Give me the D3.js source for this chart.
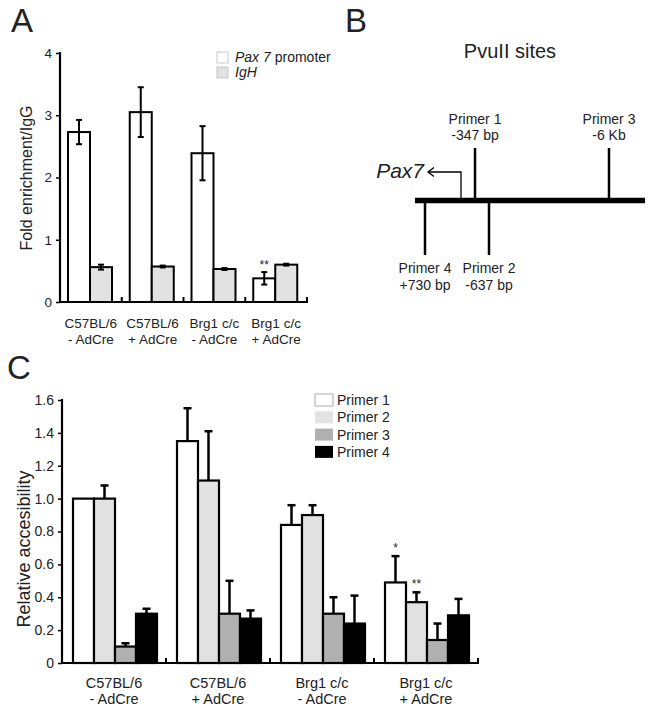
<!DOCTYPE html>
<html>
<head>
<meta charset="utf-8">
<script src="https://cdn.jsdelivr.net/npm/d3@7"></script>
<style>
  body { margin: 0; background: #fff; }
  svg { font-family: "Liberation Sans", Arial, sans-serif; }
  text { fill: #222; }
</style>
</head>
<body>
<svg id="fig" width="654" height="712"></svg>
<script>
"use strict";

// /////// DATA

// Panel A
const groupsA = ["C57BL/6|- AdCre", "C57BL/6|+ AdCre", "Brg1 c/c|- AdCre", "Brg1 c/c|+ AdCre"];
const seriesA = ["Pax 7 promoter", "IgH"];
const paxValues = [2.73, 3.05, 2.39, 0.38];
const paxErr = [0.195, 0.40, 0.435, 0.10];
const ighValues = [0.56, 0.57, 0.53, 0.60];
const ighErr = [0.04, 0.015, 0.015, 0.015];
const ticksA = [0, 1, 2, 3, 4];

// Panel B
const primerSites = [
  { name: "Primer 1", pos: "-347 bp", x: 475, side: "up" },
  { name: "Primer 3", pos: "-6 Kb", x: 609, side: "up" },
  { name: "Primer 4", pos: "+730 bp", x: 425, side: "down" },
  { name: "Primer 2", pos: "-637 bp", x: 489, side: "down" },
];

// Panel C
const groupsC = groupsA;
const seriesC = ["Primer 1", "Primer 2", "Primer 3", "Primer 4"];
const primer1 = [1.0, 1.35, 0.84, 0.49];
const primer2 = [1.0, 1.11, 0.90, 0.37];
const primer3 = [0.10, 0.30, 0.30, 0.14];
const primer4 = [0.30, 0.27, 0.24, 0.29];
const primer1Err = [0, 0.20, 0.12, 0.16];
const primer2Err = [0.08, 0.30, 0.06, 0.06];
const primer3Err = [0.02, 0.20, 0.10, 0.10];
const primer4Err = [0.03, 0.05, 0.17, 0.10];
const ticksC = [0, 0.2, 0.4, 0.6, 0.8, 1.0, 1.2, 1.4, 1.6];

const colorsA = ["#ffffff", "#e2e2e2"];
const colorsC = ["#ffffff", "#e2e2e2", "#b0b0b0", "#000000"];

const svg = d3.select("#fig");

// /////// HELPERS

function panelLetter(txt, x, y) {
  svg.append("text").attr("x", x).attr("y", y)
    .style("font-size", "33px").text(txt);
}

function drawAxes(g, x, y, ticks, fmt, tickFont) {
  const [x0, x1] = x.range();
  const y0 = y.range()[0];
  // y axis
  const ax = g.append("g")
    .attr("transform", `translate(${x0},0)`)
    .call(d3.axisLeft(y).tickValues(ticks).tickSize(4).tickPadding(4).tickFormat(fmt));
  ax.select(".domain").remove();
  ax.selectAll(".tick line").attr("stroke", "#000").attr("stroke-width", 1.5);
  ax.selectAll(".tick text").style("font-size", tickFont + "px").attr("fill", "#333")
    .style("font-family", "Liberation Sans, Arial, sans-serif");
  g.append("line").attr("x1", x0).attr("x2", x0)
    .attr("y1", y(ticks[ticks.length - 1]) - 1).attr("y2", y0 + 1)
    .attr("stroke", "#000").attr("stroke-width", 2.2);
  // x axis with small separators between groups
  g.append("line").attr("x1", x0 - 1).attr("x2", x1 + 1)
    .attr("y1", y0).attr("y2", y0)
    .attr("stroke", "#000").attr("stroke-width", 2.2);
  x.domain().forEach((d) => {
    const xe = x(d) + x.bandwidth();
    g.append("line").attr("x1", xe).attr("x2", xe)
      .attr("y1", y0).attr("y2", y0 - 5)
      .attr("stroke", "#000").attr("stroke-width", 2);
  });
}

// two-line group labels, one text element per line
function groupLabels(g, x, yTop, font, lh) {
  x.domain().forEach((d) => {
    d.split("|").forEach((ln, i) => {
      g.append("text")
        .attr("text-anchor", "middle")
        .attr("x", x(d) + x.bandwidth() / 2)
        .attr("y", yTop + i * lh)
        .style("font-size", font + "px")
        .text(ln);
    });
  });
}

// /////// PANEL A

panelLetter("A", 11, 32);

const gA = svg.append("g");
const xA = d3.scaleBand().domain(groupsA).range([60, 307]);
const xAin = d3.scaleBand().domain(seriesA).range([8, 52]);
const yA = d3.scaleLinear().domain([0, 4]).range([302, 53]);

const dataA = groupsA.flatMap((g, i) => [
  { group: g, key: seriesA[0], value: paxValues[i], err: paxErr[i], star: i === 3 ? "**" : "" },
  { group: g, key: seriesA[1], value: ighValues[i], err: ighErr[i], star: "" },
]);

gA.selectAll("rect.bar")
  .data(dataA)
  .join("rect")
  .attr("class", "bar")
  .attr("x", (d) => xA(d.group) + xAin(d.key))
  .attr("y", (d) => yA(d.value))
  .attr("width", xAin.bandwidth())
  .attr("height", (d) => yA(0) - yA(d.value))
  .attr("fill", (d) => colorsA[seriesA.indexOf(d.key)])
  .attr("stroke", "#000")
  .attr("stroke-width", 2);

// symmetric error bars
const errA = gA.selectAll("g.err")
  .data(dataA)
  .join("g")
  .attr("class", "err")
  .attr("transform", (d) => `translate(${xA(d.group) + xAin(d.key) + xAin.bandwidth() / 2},0)`);
errA.append("line")
  .attr("y1", (d) => yA(d.value - d.err)).attr("y2", (d) => yA(d.value + d.err))
  .attr("stroke", "#000").attr("stroke-width", 2);
errA.append("line")
  .attr("x1", -3).attr("x2", 3)
  .attr("y1", (d) => yA(d.value - d.err)).attr("y2", (d) => yA(d.value - d.err))
  .attr("stroke", "#000").attr("stroke-width", 2);
errA.append("line")
  .attr("x1", -3).attr("x2", 3)
  .attr("y1", (d) => yA(d.value + d.err)).attr("y2", (d) => yA(d.value + d.err))
  .attr("stroke", "#000").attr("stroke-width", 2);
errA.filter((d) => d.star)
  .append("text")
  .attr("text-anchor", "middle")
  .attr("y", (d) => yA(d.value + d.err) - 3)
  .style("font-size", "12px")
  .text((d) => d.star);

drawAxes(gA, xA, yA, ticksA, d3.format("d"), 13.5);
groupLabels(gA, xA, 328, 13.5, 15.5);

gA.append("text")
  .attr("transform", "translate(32,178) rotate(-90)")
  .attr("text-anchor", "middle")
  .style("font-size", "16px")
  .text("Fold enrichment/IgG");

// legend A
const legA = gA.selectAll("g.leg")
  .data(seriesA)
  .join("g")
  .attr("class", "leg")
  .attr("transform", (d, i) => `translate(217,${52 + i * 15})`);
legA.append("rect")
  .attr("width", 11).attr("height", 11)
  .attr("fill", (d, i) => colorsA[i])
  .attr("stroke", "#bbb").attr("stroke-width", 0.8);
const legAText = legA.append("text")
  .attr("x", 18).attr("y", 10)
  .style("font-size", "14px");
legAText.filter((d, i) => i === 0)
  .call((t) => {
    t.append("tspan").style("font-style", "italic").text("Pax 7");
    t.append("tspan").text(" promoter");
  });
legAText.filter((d, i) => i === 1)
  .style("font-style", "italic")
  .text((d) => d);

// /////// PANEL B

panelLetter("B", 345, 32);

const gB = svg.append("g");
gB.append("text")
  .attr("x", 510).attr("y", 58)
  .attr("text-anchor", "middle")
  .style("font-size", "20px")
  .text("PvuII sites");

const lineY = 200.5;
gB.append("line")
  .attr("x1", 415).attr("x2", 645)
  .attr("y1", lineY).attr("y2", lineY)
  .attr("stroke", "#000").attr("stroke-width", 5.5);

const sites = gB.selectAll("g.site")
  .data(primerSites)
  .join("g")
  .attr("class", "site")
  .attr("transform", (d) => `translate(${d.x},0)`);
sites.append("line")
  .attr("y1", (d) => (d.side === "up" ? 148 : lineY))
  .attr("y2", (d) => (d.side === "up" ? lineY : 255))
  .attr("stroke", "#000").attr("stroke-width", 2.5);
sites.append("text")
  .attr("text-anchor", "middle")
  .attr("y", (d) => (d.side === "up" ? 124 : 273))
  .style("font-size", "14px")
  .text((d) => d.name);
sites.append("text")
  .attr("text-anchor", "middle")
  .attr("y", (d) => (d.side === "up" ? 140 : 290))
  .style("font-size", "14px")
  .text((d) => d.pos);

// Pax7 TSS arrow
gB.append("path")
  .attr("d", `M461,${lineY} V172 H428`)
  .attr("fill", "none").attr("stroke", "#000").attr("stroke-width", 1.3);
gB.append("path")
  .attr("d", "M434,167.5 L428,172 L434,176.5")
  .attr("fill", "none").attr("stroke", "#000").attr("stroke-width", 1.3);
gB.append("text")
  .attr("x", 424).attr("y", 178)
  .attr("text-anchor", "end")
  .style("font-size", "21px")
  .style("font-style", "italic")
  .text("Pax7");

// /////// PANEL C

panelLetter("C", 7, 379);

const gC = svg.append("g");
const xC = d3.scaleBand().domain(groupsC).range([62, 478]);
const xCin = d3.scaleBand().domain(seriesC).range([11, 95]);
const yC = d3.scaleLinear().domain([0, 1.6]).range([663, 400]);

const valsC = [primer1, primer2, primer3, primer4];
const errsC = [primer1Err, primer2Err, primer3Err, primer4Err];
const dataC = groupsC.flatMap((g, i) =>
  seriesC.map((s, j) => ({
    group: g,
    key: s,
    value: valsC[j][i],
    err: errsC[j][i],
    star: i === 3 && j === 0 ? "*" : i === 3 && j === 1 ? "**" : "",
  }))
);

gC.selectAll("rect.bar")
  .data(dataC)
  .join("rect")
  .attr("class", "bar")
  .attr("x", (d) => xC(d.group) + xCin(d.key))
  .attr("y", (d) => yC(d.value))
  .attr("width", xCin.bandwidth())
  .attr("height", (d) => yC(0) - yC(d.value))
  .attr("fill", (d) => colorsC[seriesC.indexOf(d.key)])
  .attr("stroke", "#000")
  .attr("stroke-width", 2.2);

// upper error bars only
const errC = gC.selectAll("g.err")
  .data(dataC)
  .join("g")
  .attr("class", "err")
  .attr("transform", (d) => `translate(${xC(d.group) + xCin(d.key) + xCin.bandwidth() / 2},0)`);
errC.filter((d) => d.err > 0)
  .append("line")
  .attr("y1", (d) => yC(d.value)).attr("y2", (d) => yC(d.value + d.err))
  .attr("stroke", "#000").attr("stroke-width", 2.5);
errC.filter((d) => d.err > 0)
  .append("line")
  .attr("x1", -4).attr("x2", 4)
  .attr("y1", (d) => yC(d.value + d.err)).attr("y2", (d) => yC(d.value + d.err))
  .attr("stroke", "#000").attr("stroke-width", 2.5);
errC.filter((d) => d.star)
  .append("text")
  .attr("text-anchor", "middle")
  .attr("y", (d) => yC(d.value + d.err) - 4)
  .style("font-size", "12px")
  .text((d) => d.star);

drawAxes(gC, xC, yC, ticksC, (d) => (d === 0 ? "0" : d3.format(".1f")(d)), 14);
groupLabels(gC, xC, 688, 14.5, 15.5);

gC.append("text")
  .attr("transform", "translate(30,549) rotate(-90)")
  .attr("text-anchor", "middle")
  .style("font-size", "18px")
  .text("Relative accesibility");

// legend C
const legC = gC.selectAll("g.leg")
  .data(seriesC)
  .join("g")
  .attr("class", "leg")
  .attr("transform", (d, i) => `translate(315,${394 + i * 17.3})`);
legC.append("rect")
  .attr("width", 18).attr("height", 12)
  .attr("fill", (d, i) => colorsC[i])
  .attr("stroke", (d, i) => (i === 0 ? "#999" : "none"))
  .attr("stroke-width", 0.8);
legC.append("text")
  .attr("x", 22).attr("y", 11)
  .style("font-size", "14px")
  .text((d) => d);
</script>
</body>
</html>
